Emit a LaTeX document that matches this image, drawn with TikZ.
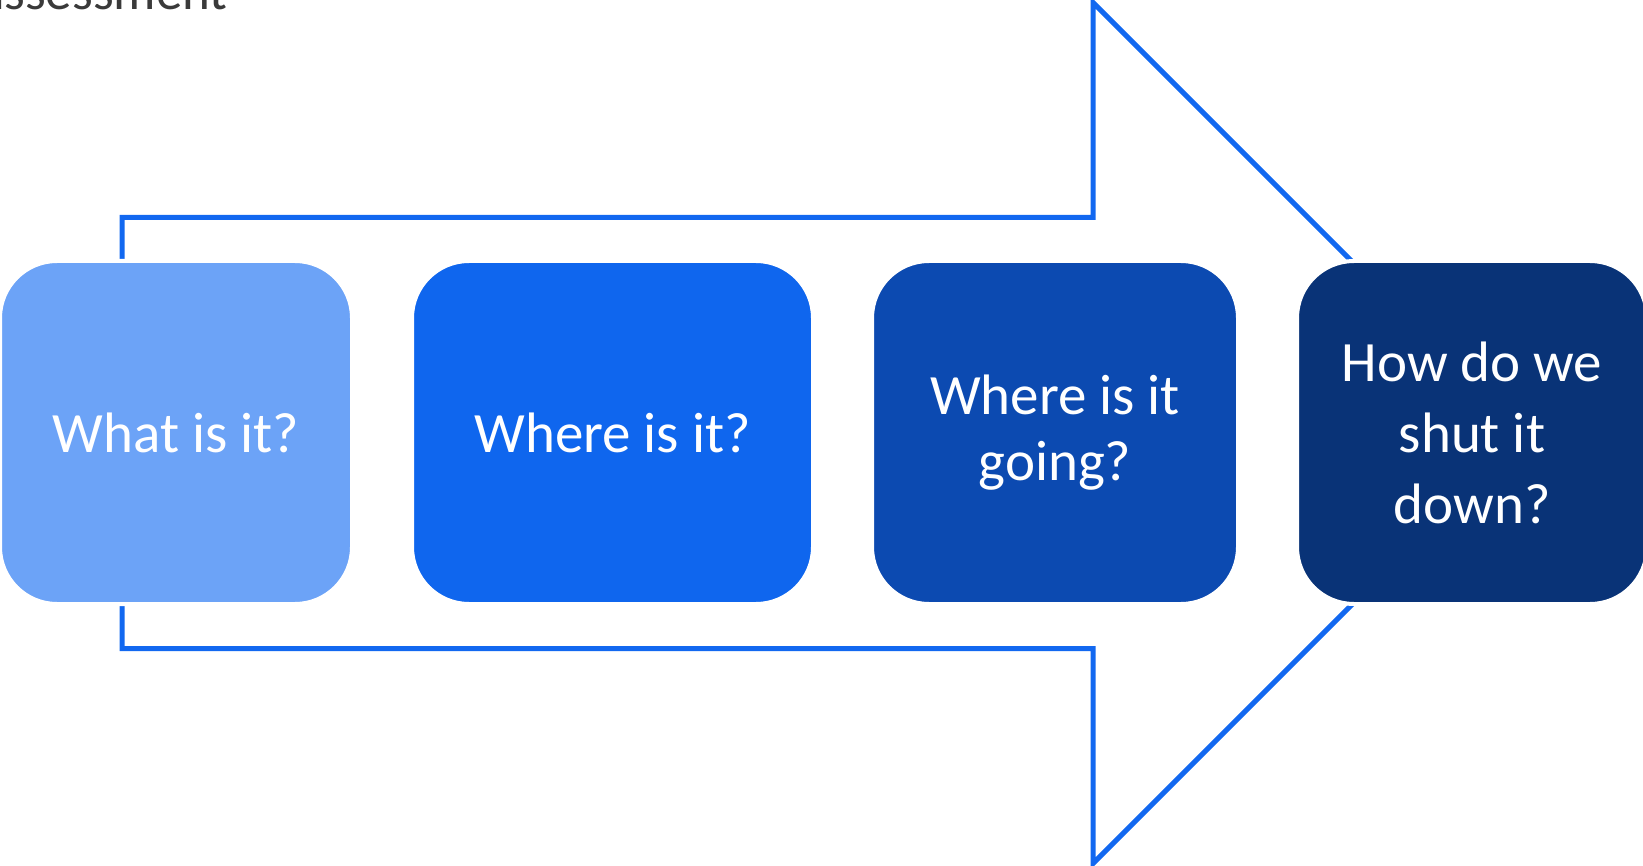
\documentclass[tikz,border=0pt]{standalone}
\usepackage{fontspec}
\setmainfont{Carlito}
\definecolor{boxA}{HTML}{6CA3F7}
\definecolor{boxB}{HTML}{0F66EE}
\definecolor{boxC}{HTML}{0C4AB1}
\definecolor{boxD}{HTML}{093377}
\definecolor{outline}{HTML}{1268F0}
\definecolor{titlegray}{HTML}{3A3A3A}
\tikzset{
  qbox/.style={rectangle, rounded corners=28.5pt, draw=white, line width=2pt,
    inner sep=0pt, minimum height=171.5pt, text=white, align=center,
    font=\fontsize{28.5pt}{35.5pt}\selectfont},
  arrowline/.style={draw=outline, line width=2.5pt, line join=miter, fill=none}
}
\begin{document}
\begin{tikzpicture}[x=0.5pt, y=-0.5pt]
\useasboundingbox (0,0) rectangle (1643,866);
\clip (0,0) rectangle (1643,866);
% big outlined arrow
\draw[arrowline] (122,217.5) -- (1093,217.5) -- (1093,2.5) -- (1523.5,433)
  -- (1093,863.5) -- (1093,648.5) -- (122,648.5) -- cycle;
% title fragment
\node[anchor=base east, inner sep=0pt, text=titlegray,
  font=\fontsize{26.5pt}{30pt}\selectfont] (title) at (228,10) {assessment};
% boxes
\node[qbox, fill=boxA, minimum width=176pt] (q1) at (176,432.5) {What is it?};
\node[qbox, fill=boxB, minimum width=200.5pt] (q2) at (612.5,432.5) {Where is it?};
\node[qbox, fill=boxC, minimum width=183pt, font=\fontsize{28.5pt}{33pt}\selectfont] (q3) at (1055,432.5) {Where is it\\going?};
\node[qbox, fill=boxD, minimum width=175pt] (q4) at (1472,432.5) {How do we\\shut it\\down?};
\end{tikzpicture}
\end{document}
